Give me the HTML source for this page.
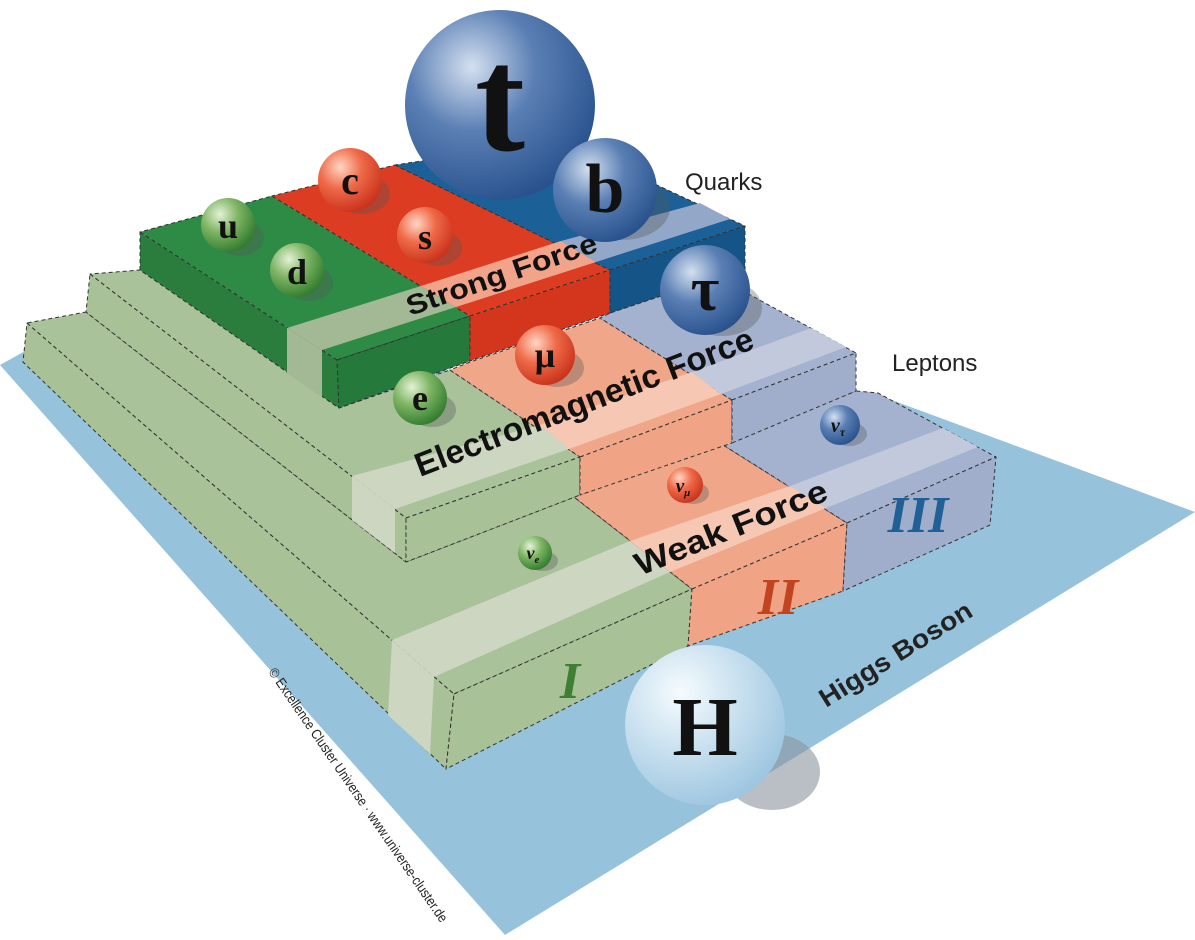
<!DOCTYPE html>
<html><head><meta charset="utf-8"><style>
html,body{margin:0;padding:0;background:#fff;width:1195px;height:940px;overflow:hidden}
svg{display:block}
</style></head><body>
<svg width="1195" height="940" viewBox="0 0 1195 940" xmlns="http://www.w3.org/2000/svg">
<defs>
<radialGradient id="gG" cx="0.35" cy="0.3" r="0.75"><stop offset="0" stop-color="#e4f2d6"/><stop offset="0.45" stop-color="#7fb565"/><stop offset="1" stop-color="#2f7a2c"/></radialGradient>
<radialGradient id="gR" cx="0.35" cy="0.3" r="0.75"><stop offset="0" stop-color="#ffd6c4"/><stop offset="0.45" stop-color="#ef6a48"/><stop offset="1" stop-color="#c8301a"/></radialGradient>
<radialGradient id="gB" cx="0.35" cy="0.3" r="0.75"><stop offset="0" stop-color="#d4e0f0"/><stop offset="0.45" stop-color="#5a7fb4"/><stop offset="1" stop-color="#27508c"/></radialGradient>
<radialGradient id="gH" cx="0.35" cy="0.3" r="0.75"><stop offset="0" stop-color="#f6fbfe"/><stop offset="0.5" stop-color="#c8e0ef"/><stop offset="1" stop-color="#9cc5df"/></radialGradient>
</defs>
<!-- blue plane -->
<polygon points="0,365 27,350 870,392 1195,512 505,935" fill="#97c2dc"/>
<ellipse cx="772" cy="772" rx="48" ry="38" fill="#8a959d" opacity="0.6"/>

<g stroke="#333" stroke-width="1" stroke-dasharray="4,3" stroke-linejoin="round">
<!-- LEVEL 1 -->
<polygon points="27,323 454,694 446,769 23,362" fill="#a8c196"/>
<polygon points="27,323 454,694 692,589 574,497 406,562 86,312" fill="#a9c29a"/>
<polygon points="692,589 847,523 720,443 574,497" fill="#f0a688"/>
<polygon points="847,523 996,457 878,393 856,391 720,443" fill="#a4b2cf"/>
<g stroke="none">
<polygon points="434,677 670,572 630,541 392,640" fill="#ccd6c1"/>
<polygon points="670,572 826,508 790,486 630,541" fill="#f6c7b2"/>
<polygon points="826,508 978,447 943,428 790,486" fill="#c2c9dc"/>
<polygon points="392,640 434,677 430,754 388,715" fill="#ccd6c1"/>
</g>
<polygon points="454,694 692,589 688,646 446,769" fill="#a8c196"/>
<polygon points="692,589 847,523 843,591 688,646" fill="#f0a385"/>
<polygon points="847,523 996,457 990,525 843,591" fill="#a1aecb"/>
<!-- LEVEL 2 -->
<polygon points="90,274 406,518 406,562 86,312" fill="#a8c196"/>
<polygon points="90,274 406,518 580,457 450,370 339,408 140,270" fill="#a9c29a"/>
<polygon points="580,457 732,400 600,318 470,362 450,370" fill="#f0a688"/>
<polygon points="732,400 856,353 745,292 745,268 610,313 600,318" fill="#a4b2cf"/>
<g stroke="none">
<polygon points="395,509 569,449 540,425 352,476" fill="#ccd6c1"/>
<polygon points="569,449 721,394 692,372 540,425" fill="#f6c7b2"/>
<polygon points="721,394 846,347 811,328 692,372" fill="#c2c9dc"/>
<polygon points="352,476 395,509 395,553 352,520" fill="#ccd6c1"/>
</g>
<polygon points="406,518 580,457 580,495 406,562" fill="#a8c196"/>
<polygon points="580,457 732,400 732,443 580,495" fill="#f0a385"/>
<polygon points="732,400 856,353 856,391 732,443" fill="#a1aecb"/>
<!-- LEVEL 3 -->
<polygon points="140,232 337,360 339,408 140,270" fill="#2a7d3c"/>
<polygon points="140,232 337,360 470,316 272,196" fill="#2e8b46"/>
<polygon points="272,196 470,316 610,270 395,165" fill="#dc3d22"/>
<polygon points="395,165 610,270 745,226 560,140" fill="#1b6198"/>
<g stroke="none">
<polygon points="322,350 456,307 421,286 287,328" fill="#a3b995"/>
<polygon points="456,307 596,262 561,241 421,286" fill="#f2a48a"/>
<polygon points="596,262 730,219 700,203 561,241" fill="#93a8c8"/>
<polygon points="287,328 322,350 322,397 287,373" fill="#a3b995"/>
</g>
<polygon points="337,360 470,316 470,361 339,408" fill="#257a3b"/>
<polygon points="470,316 610,270 610,313 470,361" fill="#d3361d"/>
<polygon points="610,270 745,226 745,268 610,313" fill="#155486"/>
</g>

<!-- shadows -->
<g fill="#555" opacity="0.35">
<ellipse cx="240" cy="238" rx="24" ry="18"/><ellipse cx="309" cy="283" rx="24" ry="18"/>
<ellipse cx="362" cy="194" rx="28" ry="20"/><ellipse cx="437" cy="248" rx="25" ry="18"/>
<ellipse cx="622" cy="208" rx="48" ry="32"/><ellipse cx="722" cy="308" rx="40" ry="28"/>
<ellipse cx="557" cy="368" rx="27" ry="19"/><ellipse cx="432" cy="410" rx="24" ry="17"/>
<ellipse cx="849" cy="434" rx="18" ry="12"/><ellipse cx="693" cy="493" rx="16" ry="11"/><ellipse cx="543" cy="561" rx="15" ry="10"/>
</g>
<!-- balls -->
<circle cx="500" cy="105" r="95" fill="url(#gB)"/>
<circle cx="605" cy="190" r="52" fill="url(#gB)"/>
<circle cx="350" cy="180" r="32" fill="url(#gR)"/>
<circle cx="425" cy="235" r="28" fill="url(#gR)"/>
<circle cx="228" cy="225" r="27" fill="url(#gG)"/>
<circle cx="297" cy="270" r="27" fill="url(#gG)"/>
<circle cx="705" cy="290" r="45" fill="url(#gB)"/>
<circle cx="545" cy="355" r="30" fill="url(#gR)"/>
<circle cx="420" cy="398" r="27" fill="url(#gG)"/>
<circle cx="840" cy="425" r="20" fill="url(#gB)"/>
<circle cx="685" cy="485" r="18" fill="url(#gR)"/>
<circle cx="535" cy="553" r="17" fill="url(#gG)"/>
<circle cx="705" cy="725" r="80" fill="url(#gH)"/>

<g font-family="'Liberation Serif',serif" font-weight="bold" fill="#111" text-anchor="middle">
<text x="500" y="150" font-size="150">t</text>
<text x="605" y="212" font-size="70">b</text>
<text x="350" y="194" font-size="40">c</text>
<text x="425" y="249" font-size="36">s</text>
<text x="228" y="238" font-size="36">u</text>
<text x="297" y="284" font-size="36">d</text>
<text x="705" y="310" font-size="62">τ</text>
<text x="545" y="367" font-size="36">μ</text>
<text x="420" y="410" font-size="36">e</text>
<text x="838" y="432" font-size="20" font-style="italic">ν<tspan font-size="12" dy="4">τ</tspan></text>
<text x="683" y="492" font-size="19" font-style="italic">ν<tspan font-size="11" dy="4">μ</tspan></text>
<text x="533" y="559" font-size="18" font-style="italic">ν<tspan font-size="11" dy="4">e</tspan></text>
<text x="705" y="755" font-size="84">H</text>
<text x="570" y="698" font-size="52" font-style="italic" fill="#3f7f34">I</text>
<text x="778" y="614" font-size="52" font-style="italic" fill="#c2431f">II</text>
<text x="918" y="532" font-size="52" font-style="italic" fill="#1f6096">III</text>
</g>

<g font-family="'Liberation Sans Narrow','Liberation Sans',sans-serif" font-weight="bold" fill="#111">
<text transform="translate(410,316) rotate(-19)" font-size="28" textLength="200" lengthAdjust="spacingAndGlyphs">Strong Force</text>
<text transform="translate(420,477) rotate(-21)" font-size="33" textLength="360" lengthAdjust="spacingAndGlyphs">Electromagnetic Force</text>
<text transform="translate(640,576) rotate(-22)" font-size="32" textLength="205" lengthAdjust="spacingAndGlyphs">Weak Force</text>
</g>
<g font-family="'Liberation Sans',sans-serif" fill="#222">
<text x="685" y="190" font-size="24">Quarks</text>
<text x="892" y="371" font-size="24">Leptons</text>
<text transform="translate(826,708) rotate(-32)" font-size="26" font-weight="bold" textLength="175" lengthAdjust="spacingAndGlyphs">Higgs Boson</text>
<text transform="translate(268,672) rotate(55.5)" font-size="14" textLength="305" lengthAdjust="spacingAndGlyphs">© Excellence Cluster Universe · www.universe-cluster.de</text>
</g>
</svg>
</body></html>
